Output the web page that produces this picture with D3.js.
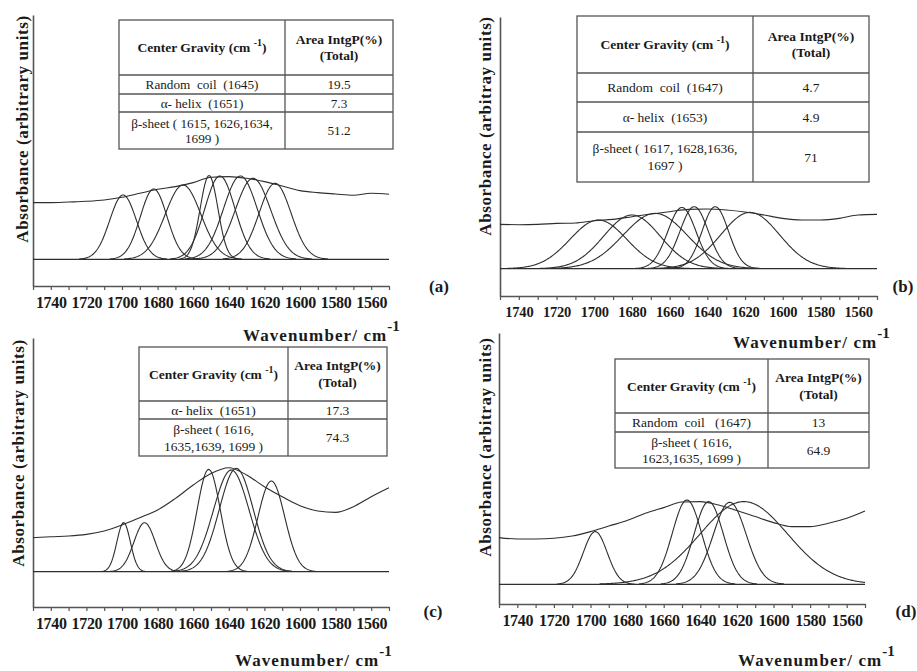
<!DOCTYPE html>
<html><head><meta charset="utf-8">
<script src="https://cdn.jsdelivr.net/npm/d3@7"></script>
</head><body style="margin:0;background:#fff">
<svg id="chart" width="917" height="671"></svg>
<script>
// ---------------- DATA ----------------
const waveGrid = [1750,1740,1730,1720,1710,1700,1690,1680,1670,1660,1650,1640,1630,1620,1610,1600,1590,1580,1570,1560,1550];
const tickLabels = [1740,1720,1700,1680,1660,1640,1620,1600,1580,1560];
const panelNames = ["(a)","(b)","(c)","(d)"];
const yTitles = ["Absorbance (arbitrary units)","Absorbance (arbitray units)","Absorbance (arbitrary units)","Absorbance (arbitray units)"];
const xTitle = "Wavenumber/ cm";
const xTitleSup = "-1";

// measured spectra (absorbance, arbitrary units, baseline = 0) on waveGrid
const spectrumA = [0.567,0.567,0.573,0.580,0.593,0.620,0.660,0.700,0.727,0.767,0.820,0.827,0.810,0.777,0.733,0.687,0.667,0.653,0.640,0.660,0.650];
const spectrumB = [0.443,0.440,0.443,0.453,0.457,0.480,0.493,0.520,0.547,0.570,0.593,0.597,0.587,0.567,0.537,0.503,0.487,0.487,0.503,0.537,0.543];
const spectrumC = [0.340,0.350,0.357,0.373,0.407,0.467,0.540,0.617,0.733,0.867,0.983,1.040,0.967,0.850,0.750,0.660,0.607,0.593,0.650,0.750,0.840];
const spectrumD = [0.467,0.453,0.453,0.460,0.483,0.527,0.583,0.637,0.710,0.767,0.823,0.827,0.793,0.737,0.677,0.617,0.577,0.577,0.610,0.660,0.733];

// fitted component bands: centre (cm-1), height, width (sigma, cm-1)
const peakCentersA = [1699.4,1682.2,1665.7,1651.1,1645.0,1633.5,1626.4,1614.0];
const peakHeightsA = [0.643,0.703,0.743,0.837,0.833,0.833,0.810,0.760];
const peakWidthsA  = [7.5,7.5,10,5,8.5,9.5,10,9];

const peakCentersB = [1697.8,1680.0,1667.7,1653.5,1647.0,1635.8,1617.3];
const peakHeightsB = [0.487,0.537,0.553,0.613,0.620,0.620,0.563];
const peakWidthsB  = [15,15,17,7.5,7.5,7,15.5];

const peakCentersC = [1699.1,1687.3,1651.3,1638.6,1635.8,1616.1];
const peakHeightsC = [0.490,0.490,1.023,1.017,1.033,0.907];
const peakWidthsC  = [3.8,6,6.5,10,9.5,7.5];

const peakCentersD = [1697.4,1647.3,1635.4,1623.9,1616.2];
const peakHeightsD = [0.527,0.843,0.827,0.820,0.827];
const peakWidthsD  = [6.5,8,8,9,24];

// tables
const headerCol1 = "Center Gravity (cm ";
const headerCol1Sup = "-1";
const headerCol1End = ")";
const headerCol2 = ["Area IntgP(%)","(Total)"];

const tableLabelsA = [["Random\u00a0 coil\u00a0 (1645)"],["α- helix\u00a0 (1651)"],["β-sheet ( 1615, 1626,1634,","1699 )"]];
const tableValuesA = ["19.5","7.3","51.2"];
const tableLabelsB = [["Random\u00a0 coil\u00a0 (1647)"],["α- helix\u00a0 (1653)"],["β-sheet ( 1617, 1628,1636,","1697 )"]];
const tableValuesB = ["4.7","4.9","71"];
const tableLabelsC = [["α- helix\u00a0 (1651)"],["β-sheet ( 1616,","1635,1639, 1699 )"]];
const tableValuesC = ["17.3","74.3"];
const tableLabelsD = [["Random\u00a0 coil\u00a0\u00a0 (1647)"],["β-sheet ( 1616,","1623,1635, 1699 )"]];
const tableValuesD = ["13","64.9"];

// ---------------- LAYOUT ----------------
const FONT = '"Liberation Serif"';
const panels = [
  {spec:spectrumA, pc:peakCentersA, ph:peakHeightsA, pw:peakWidthsA, labels:tableLabelsA, values:tableValuesA,
   x0:33, x1:389, top:15, bottom:286, base:259.3, tickFont:16, tickLS:-0.3,
   table:{l:119, m:285, r:393, rows:[20,75,94,112,149], gap:15, font:13.2},
   yT:[22,129], xT:[243,341], pl:[439,292]},
  {spec:spectrumB, pc:peakCentersB, ph:peakHeightsB, pw:peakWidthsB, labels:tableLabelsB, values:tableValuesB,
   x0:500, x1:877, top:17, bottom:296, base:268.7, tickFont:14.5, tickLS:-0.2,
   table:{l:577, m:753, r:869, rows:[16,73,102,132,182], gap:16.5, font:13.5},
   yT:[485,126], xT:[733,348], pl:[903,292]},
  {spec:spectrumC, pc:peakCentersC, ph:peakHeightsC, pw:peakWidthsC, labels:tableLabelsC, values:tableValuesC,
   x0:33, x1:389, top:338, bottom:607, base:571.7, tickFont:16, tickLS:-0.3,
   table:{l:139, m:288, r:387, rows:[347,401,419,456], gap:17, font:13.5},
   yT:[18,453], xT:[235,666], pl:[433,617]},
  {spec:spectrumD, pc:peakCentersD, ph:peakHeightsD, pw:peakWidthsD, labels:tableLabelsD, values:tableValuesD,
   x0:499, x1:865, top:333, bottom:604, base:584.3, tickFont:16, tickLS:-0.3,
   table:{l:615, m:768, r:869, rows:[359,413,432,468], gap:16, font:13.5},
   yT:[485,447], xT:[738,666], pl:[906,617]}
];

const svg = d3.select("#chart");
const INK = "#2e2e2e";
const TXT = "#1a1a1a";
function txt(sel){ return sel.attr("font-family","Liberation Serif").style("font-family",FONT).style("fill",TXT); }

panels.forEach((P, i) => {
  const g = svg.append("g");
  const x = d3.scaleLinear().domain([1750,1550]).range([P.x0, P.x1]);
  const y = d3.scaleLinear()
    .domain([-(P.bottom - P.base)/100, (P.base - P.top)/100])
    .range([P.bottom, P.top]);

  // x axis
  const ax = g.append("g").attr("transform", `translate(0,${P.bottom})`)
    .call(d3.axisBottom(x).tickValues(waveGrid).tickSize(4).tickSizeOuter(0).tickPadding(7)
      .tickFormat(d => tickLabels.includes(d) ? d : ""));
  ax.attr("font-family","Liberation Serif");
  ax.select(".domain").attr("stroke","#555").attr("stroke-width",1.6);
  ax.selectAll(".tick line").attr("stroke","#555").attr("stroke-width",1.2);
  txt(ax.selectAll(".tick text")).style("font-weight","bold").style("font-size",P.tickFont+"px")
    .style("letter-spacing",P.tickLS+"px");

  // y axis (line only)
  const ay = g.append("g").attr("transform", `translate(${P.x0},0)`)
    .call(d3.axisLeft(y).tickValues([]).tickSizeOuter(0));
  ay.select(".domain").attr("stroke","#555").attr("stroke-width",1.6);

  // baseline
  g.append("line").attr("x1",x(1750)).attr("x2",x(1550)).attr("y1",y(0)).attr("y2",y(0))
    .attr("stroke",INK).attr("stroke-width",1.3);

  // component bands
  const line = d3.line().x(d => x(d[0])).y(d => y(d[1]));
  P.pc.forEach((c, k) => {
    const s = P.pw[k], h = P.ph[k];
    const lo = Math.max(1550, c - 3.3*s), hi = Math.min(1750, c + 3.3*s);
    const pts = [];
    for (let w = lo; w <= hi + 1e-9; w += 0.5) pts.push([w, h*Math.exp(-((w-c)*(w-c))/(2*s*s))]);
    g.append("path").attr("d", line(pts)).attr("fill","none")
      .attr("stroke",INK).attr("stroke-width",1.1);
  });

  // measured spectrum
  const specLine = d3.line().x(d => x(d[0])).y(d => y(d[1])).curve(d3.curveMonotoneX);
  g.append("path").attr("d", specLine(waveGrid.map((w,k) => [w, P.spec[k]])))
    .attr("fill","none").attr("stroke",INK).attr("stroke-width",1.1);

  // y title
  txt(g.append("text")).attr("transform",`translate(${P.yT[0]},${P.yT[1]}) rotate(-90)`)
    .attr("text-anchor","middle").attr("dominant-baseline","central")
    .style("font-weight","bold").style("font-size","17px").style("letter-spacing","0.6px")
    .text(yTitles[i]);

  // x title
  const xt = txt(g.append("text")).attr("x",P.xT[0]).attr("y",P.xT[1])
    .style("font-weight","bold").style("font-size","17px").style("letter-spacing","1.1px");
  xt.append("tspan").text(xTitle);
  xt.append("tspan").attr("dy",-10).style("font-size","15px").style("letter-spacing","0px").text(xTitleSup);

  // panel label
  txt(g.append("text")).attr("x",P.pl[0]).attr("y",P.pl[1]).attr("text-anchor","middle")
    .style("font-weight","bold").style("font-size","17px").text(panelNames[i]);

  // table
  const T = P.table;
  const tg = g.append("g");
  const R = T.rows;
  tg.append("rect").attr("x",T.l).attr("y",R[0]).attr("width",T.r-T.l).attr("height",R[R.length-1]-R[0])
    .attr("fill","#fff").attr("stroke","#555").attr("stroke-width",1.3);
  tg.append("line").attr("x1",T.m).attr("x2",T.m).attr("y1",R[0]).attr("y2",R[R.length-1])
    .attr("stroke","#555").attr("stroke-width",1.3);
  R.slice(1,-1).forEach(ry => tg.append("line").attr("x1",T.l).attr("x2",T.r).attr("y1",ry).attr("y2",ry)
    .attr("stroke","#555").attr("stroke-width",1.3));
  const c1 = (T.l+T.m)/2, c2 = (T.m+T.r)/2;
  const hc = (R[0]+R[1])/2;
  const h1 = txt(tg.append("text")).attr("x",c1).attr("y",hc+4.5).attr("text-anchor","middle")
    .style("font-weight","bold").style("font-size","13.5px");
  h1.append("tspan").text(headerCol1);
  h1.append("tspan").attr("dy",-6).style("font-size","10px").text(headerCol1Sup);
  h1.append("tspan").attr("dy",6).text(headerCol1End);
  headerCol2.forEach((t,k) => txt(tg.append("text")).attr("x",c2).attr("y",hc+4.5+(k-0.5)*16.5)
    .attr("text-anchor","middle").style("font-weight","bold").style("font-size","13.5px").text(t));
  P.labels.forEach((lines, r) => {
    const cy = (R[r+1]+R[r+2])/2;
    lines.forEach((t,k) => txt(tg.append("text")).attr("x",c1)
      .attr("y",cy+4.5+(k-(lines.length-1)/2)*T.gap)
      .attr("text-anchor","middle").style("font-size",T.font+"px").text(t));
    txt(tg.append("text")).attr("x",c2).attr("y",cy+4.5).attr("text-anchor","middle")
      .style("font-size",T.font+"px").text(P.values[r]);
  });
});
</script>
</body></html>
